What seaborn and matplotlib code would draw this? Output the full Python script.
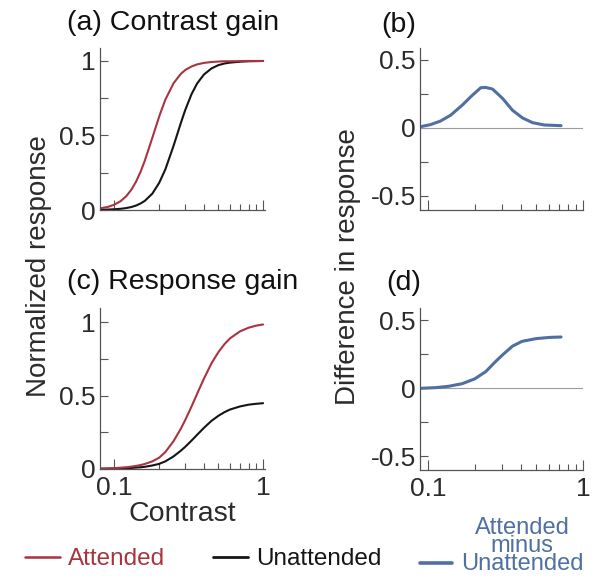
import numpy as np
import pandas as pd
import matplotlib
matplotlib.use("Agg")
import matplotlib.pyplot as plt
import seaborn as sns
from matplotlib.lines import Line2D
from matplotlib.ticker import FixedLocator, NullFormatter

# contrast grid shared by the two response panels
contrast = [0.08, 0.09, 0.1, 0.11, 0.12, 0.13, 0.14, 0.15, 0.16, 0.18, 0.2, 0.22, 0.25,
            0.28, 0.3, 0.33, 0.36, 0.4, 0.45, 0.5, 0.55, 0.6, 0.7, 0.8, 0.9, 1.0]

# (a) contrast gain
cg_attended = [0.011, 0.02, 0.036, 0.059, 0.092, 0.136, 0.191, 0.257, 0.33, 0.485, 0.627,
               0.74, 0.851, 0.914, 0.94, 0.963, 0.977, 0.987, 0.993, 0.996, 0.998, 0.998,
               0.999, 1.0, 1.0, 1.0]
cg_unattended = [0.001, 0.003, 0.005, 0.008, 0.013, 0.02, 0.03, 0.044, 0.061, 0.11, 0.182,
                 0.272, 0.431, 0.585, 0.673, 0.777, 0.849, 0.909, 0.95, 0.972, 0.983, 0.989,
                 0.995, 0.998, 0.999, 1.0]

# (c) response gain
rg_attended = [0.003, 0.004, 0.006, 0.009, 0.012, 0.016, 0.021, 0.027, 0.034, 0.052, 0.077,
               0.115, 0.19, 0.275, 0.335, 0.425, 0.512, 0.615, 0.72, 0.795, 0.85, 0.89,
               0.937, 0.962, 0.976, 0.984]
rg_unattended = [0.001, 0.002, 0.003, 0.004, 0.005, 0.007, 0.01, 0.012, 0.015, 0.024, 0.035,
                 0.052, 0.086, 0.125, 0.152, 0.193, 0.233, 0.28, 0.328, 0.362, 0.387, 0.405,
                 0.426, 0.438, 0.444, 0.448]

# (b) attended minus unattended, contrast gain
cg_diff_contrast = [0.09, 0.104, 0.12, 0.14, 0.166, 0.193, 0.219, 0.236, 0.261, 0.303, 0.351,
                    0.407, 0.473, 0.563, 0.722]
cg_diff = [0.01, 0.025, 0.05, 0.094, 0.167, 0.24, 0.296, 0.298, 0.286, 0.217, 0.13, 0.074,
           0.039, 0.022, 0.017]

# (d) attended minus unattended, response gain
rg_diff_contrast = [0.089, 0.112, 0.136, 0.166, 0.2, 0.236, 0.273, 0.303, 0.351, 0.404, 0.498,
                    0.608, 0.722]
rg_diff = [0.0, 0.005, 0.015, 0.034, 0.069, 0.123, 0.197, 0.246, 0.31, 0.345, 0.365, 0.374,
           0.377]

RED = '#a8343f'
BLACK = '#151515'
BLUE = '#4f70a0'
SPINE = '#555555'
TXT = '#2b2b2b'

sns.set_theme(style='ticks')
plt.rcParams['font.family'] = ['Liberation Sans', 'DejaVu Sans']

W, H = 600, 584
fig = plt.figure(figsize=(W / 100, H / 100), dpi=100)


def px_axes(left, right, top, bottom):
    return fig.add_axes([left / W, 1 - bottom / H, (right - left) / W, (bottom - top) / H])


ax_a = px_axes(100, 265, 48, 210)
ax_b = px_axes(420, 583, 48, 210)
ax_c = px_axes(100, 265, 308, 469)
ax_d = px_axes(420, 583, 308, 470)


def style(ax, xlim, ylim, yticks, ylabels, yminor, xlabels):
    ax.set_xscale('log')
    ax.set_xlim(xlim)
    ax.set_ylim(ylim)
    ax.set_yticks(yticks)
    ax.set_yticklabels(ylabels)
    ax.yaxis.set_minor_locator(FixedLocator(yminor))
    ax.xaxis.set_major_locator(FixedLocator([0.1, 1.0]))
    ax.xaxis.set_minor_locator(FixedLocator([0.2, 0.3, 0.4, 0.5, 0.6, 0.7, 0.8, 0.9]))
    ax.xaxis.set_minor_formatter(NullFormatter())
    ax.set_xticklabels(['0.1', '1'] if xlabels else ['', ''])
    ax.tick_params(which='both', direction='in', color=SPINE, width=0.8,
                   labelsize=19, labelcolor=TXT)
    ax.tick_params(axis='y', which='both', length=6, pad=3)
    ax.tick_params(axis='x', which='major', length=7, pad=5)
    ax.tick_params(axis='x', which='minor', length=4)
    for s in ['top', 'right']:
        ax.spines[s].set_visible(False)
    for s in ['left', 'bottom']:
        ax.spines[s].set_color(SPINE)
        ax.spines[s].set_linewidth(0.9)
    ax.set_xlabel('')
    ax.set_ylabel('')


sns.lineplot(x=contrast, y=cg_unattended, ax=ax_a, color=BLACK, lw=1.5, estimator=None)
sns.lineplot(x=contrast, y=cg_attended, ax=ax_a, color=RED, lw=1.5, estimator=None)
sns.lineplot(x=contrast, y=rg_unattended, ax=ax_c, color=BLACK, lw=1.5, estimator=None)
sns.lineplot(x=contrast, y=rg_attended, ax=ax_c, color=RED, lw=1.5, estimator=None)

for ax in (ax_b, ax_d):
    ax.axhline(0, color='#9c9c9c', lw=0.8, zorder=1)
sns.lineplot(x=cg_diff_contrast, y=cg_diff, ax=ax_b, color=BLUE, lw=2.2, estimator=None)
sns.lineplot(x=rg_diff_contrast, y=rg_diff, ax=ax_d, color=BLUE, lw=2.2, estimator=None)

style(ax_a, (0.08, 1.03), (0, 1.087), [0, 0.5, 1], ['0', '0.5', '1'], [0.25, 0.75], False)
style(ax_c, (0.08, 1.03), (0, 1.096), [0, 0.5, 1], ['0', '0.5', '1'], [0.25, 0.75], True)
style(ax_b, (0.0888, 1.0), (-0.603, 0.588), [-0.5, 0, 0.5], ['-0.5', '0', '0.5'],
      [-0.25, 0.25], False)
style(ax_d, (0.0888, 1.0), (-0.6, 0.59), [-0.5, 0, 0.5], ['-0.5', '0', '0.5'],
      [-0.25, 0.25], True)

ax_c.set_xlabel('Contrast', fontsize=20.5, color=TXT, labelpad=1)

# panel titles
title_kw = dict(ha='center', va='baseline', fontsize=20.5, color='#111111')
fig.text(173 / W, 1 - 30 / H, '(a) Contrast gain', **title_kw)
fig.text(399 / W, 1 - 32 / H, '(b)', **title_kw)
fig.text(183 / W, 1 - 289 / H, '(c) Response gain', **title_kw)
fig.text(404 / W, 1 - 290 / H, '(d)', **title_kw)

fig.text(39 / W, 1 - 266 / H, 'Normalized response', rotation=90, ha='center', va='center',
         fontsize=20, color=TXT)
fig.text(348 / W, 1 - 267 / H, 'Difference in response', rotation=90, ha='center', va='center',
         fontsize=20, color=TXT)

# legend row
entries = [('Attended', RED, 1.8, 25 / W, 559),
           ('Unattended', BLACK, 2.0, 213 / W, 559)]
for label, col, lw, x0, yc in entries:
    leg = fig.legend(handles=[Line2D([], [], color=col, lw=lw)], labels=[label],
                     loc='center left', bbox_to_anchor=(x0, 1 - yc / H), frameon=False,
                     fontsize=17.5, handlelength=1.45, handletextpad=0.33, borderpad=0,
                     borderaxespad=0)
    for t in leg.get_texts():
        t.set_color(col)

# difference entry: line on its own, three-line label as one text block
fig.legend(handles=[Line2D([], [], color=BLUE, lw=2.6)], labels=[' '],
           loc='center left', bbox_to_anchor=(420 / W, 1 - 565 / H), frameon=False,
           fontsize=17, handlelength=1.35, handletextpad=0.1, borderpad=0, borderaxespad=0)
fig.text(522 / W, 1 - 546 / H, 'Attended\nminus\nUnattended', ha='center', va='center',
         multialignment='center', linespacing=0.78, fontsize=17, color=BLUE)

fig.savefig('out.png', dpi=100)
